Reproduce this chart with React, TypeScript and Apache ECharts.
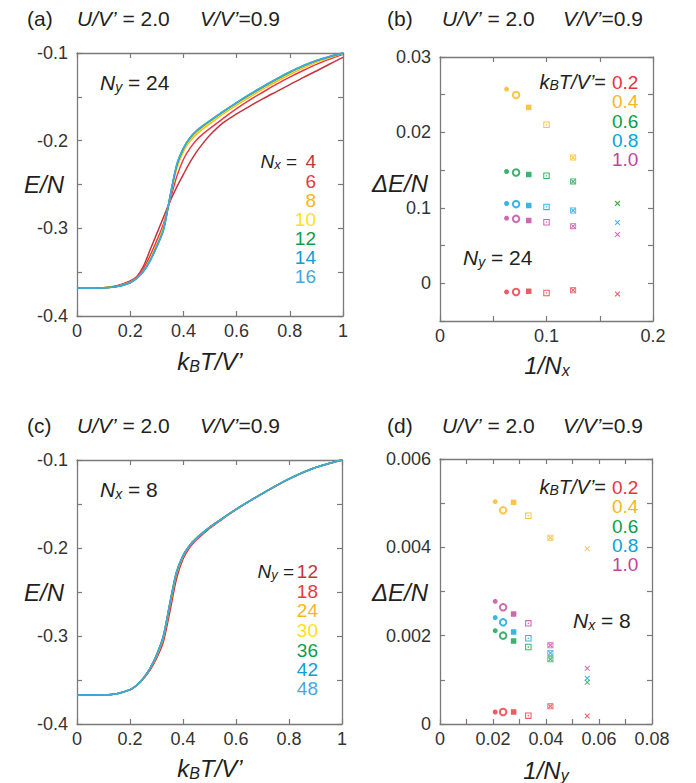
import React, { useEffect, useRef } from "react";
import * as echarts from "echarts";

// ---------- DATA ----------
// temperature grid (kB T / V')
const TEMPS = [0, 0.05, 0.1, 0.15, 0.2, 0.225, 0.25, 0.275, 0.3, 0.325, 0.35, 0.375, 0.4, 0.425, 0.45, 0.475, 0.5, 0.55, 0.6, 0.65, 0.7, 0.75, 0.8, 0.85, 0.9, 0.95, 1.0];

// panel (a): Ny = 24, various Nx
const NX_LIST = [4, 6, 8, 10, 12, 14, 16];
const EA_NX4 = [-0.368, -0.368, -0.3678, -0.3655, -0.360, -0.355, -0.343, -0.3245, -0.306, -0.2875, -0.269, -0.253, -0.2385, -0.2245, -0.2125, -0.2025, -0.1935, -0.1795, -0.1695, -0.1605, -0.152, -0.144, -0.136, -0.128, -0.1205, -0.1125, -0.105];
const EA_NX6 = [-0.368, -0.368, -0.3678, -0.366, -0.361, -0.356, -0.346, -0.331, -0.314, -0.295, -0.268, -0.241, -0.2215, -0.2085, -0.199, -0.192, -0.186, -0.1745, -0.1635, -0.1535, -0.1445, -0.1355, -0.1275, -0.120, -0.113, -0.107, -0.1015];
const EA_NX8 = [-0.368, -0.368, -0.3678, -0.3662, -0.3615, -0.3565, -0.3482, -0.335, -0.318, -0.2985, -0.265, -0.232, -0.2125, -0.2005, -0.1925, -0.186, -0.1805, -0.1695, -0.1595, -0.150, -0.141, -0.1325, -0.1245, -0.1172, -0.1107, -0.1055, -0.1007];
const EA_NX10 = [-0.368, -0.368, -0.3678, -0.3663, -0.3618, -0.3568, -0.3486, -0.336, -0.3195, -0.3005, -0.2645, -0.230, -0.2105, -0.1985, -0.1905, -0.1845, -0.179, -0.168, -0.158, -0.1485, -0.1395, -0.131, -0.123, -0.116, -0.1097, -0.1048, -0.1003];
const EA_NX12 = [-0.368, -0.368, -0.3678, -0.3664, -0.362, -0.357, -0.3488, -0.3365, -0.3205, -0.3015, -0.264, -0.2285, -0.209, -0.197, -0.189, -0.183, -0.1775, -0.167, -0.157, -0.1475, -0.1385, -0.130, -0.122, -0.115, -0.109, -0.1043, -0.100];
const EA_NX14 = [-0.368, -0.368, -0.3678, -0.3665, -0.362, -0.357, -0.349, -0.337, -0.321, -0.302, -0.2635, -0.2275, -0.2085, -0.1965, -0.1885, -0.1825, -0.177, -0.1665, -0.1565, -0.147, -0.138, -0.1295, -0.1215, -0.1145, -0.1085, -0.104, -0.100];
const EA_NX16 = [-0.368, -0.368, -0.3678, -0.3665, -0.362, -0.357, -0.349, -0.337, -0.321, -0.302, -0.263, -0.227, -0.2085, -0.1965, -0.1885, -0.1825, -0.177, -0.1665, -0.1565, -0.147, -0.138, -0.1295, -0.1215, -0.1145, -0.1085, -0.104, -0.100];

// panel (c): Nx = 8, various Ny
const NY_LIST = [12, 18, 24, 30, 36, 42, 48];
const EC_NY12 = [-0.367, -0.367, -0.3668, -0.3655, -0.3612, -0.3565, -0.349, -0.339, -0.3255, -0.3075, -0.273, -0.2355, -0.2125, -0.1995, -0.191, -0.1843, -0.1778, -0.1668, -0.1565, -0.1470, -0.1382, -0.1297, -0.1217, -0.1147, -0.1087, -0.1041, -0.100];
const EC_NY18 = [-0.367, -0.367, -0.3668, -0.3655, -0.3611, -0.3562, -0.3485, -0.338, -0.324, -0.305, -0.269, -0.232, -0.2105, -0.198, -0.190, -0.1835, -0.177, -0.1664, -0.1562, -0.1469, -0.1381, -0.1296, -0.1216, -0.1146, -0.1086, -0.1040, -0.100];
const EC_NY24 = [-0.367, -0.367, -0.3668, -0.3655, -0.361, -0.356, -0.3482, -0.3375, -0.323, -0.303, -0.266, -0.230, -0.2095, -0.1975, -0.1895, -0.183, -0.1767, -0.1662, -0.1561, -0.1468, -0.138, -0.1295, -0.1215, -0.1145, -0.1085, -0.104, -0.100];
const EC_NY30 = [-0.367, -0.367, -0.3668, -0.3655, -0.361, -0.356, -0.348, -0.337, -0.322, -0.3015, -0.2645, -0.2285, -0.209, -0.197, -0.189, -0.1825, -0.1765, -0.166, -0.156, -0.1468, -0.138, -0.1295, -0.1215, -0.1145, -0.1085, -0.104, -0.100];
const EC_NY36 = [-0.367, -0.367, -0.3668, -0.3655, -0.361, -0.356, -0.348, -0.337, -0.3215, -0.301, -0.264, -0.228, -0.2085, -0.197, -0.189, -0.1825, -0.1765, -0.166, -0.156, -0.1468, -0.138, -0.1295, -0.1215, -0.1145, -0.1085, -0.104, -0.100];
const EC_NY42 = [-0.367, -0.367, -0.3668, -0.3655, -0.361, -0.356, -0.348, -0.337, -0.3215, -0.301, -0.2635, -0.2277, -0.2085, -0.197, -0.189, -0.1825, -0.1765, -0.166, -0.156, -0.1468, -0.138, -0.1295, -0.1215, -0.1145, -0.1085, -0.104, -0.100];
const EC_NY48 = [-0.367, -0.367, -0.3668, -0.3655, -0.361, -0.356, -0.348, -0.337, -0.3215, -0.301, -0.263, -0.2275, -0.2085, -0.197, -0.189, -0.1825, -0.1765, -0.166, -0.156, -0.1468, -0.138, -0.1295, -0.1215, -0.1145, -0.1085, -0.104, -0.100];

// panel (b): Ny = 24, dE/N vs 1/Nx
const B_NX = [16, 14, 12, 10, 8, 6];
const T_LABELS = ["0.2", "0.4", "0.6", "0.8", "1.0"];
const DB_T02 = [-0.00115, -0.00115, -0.00106, -0.00128, -0.00093, -0.00142];
const DB_T04 = [0.02575, 0.02496, 0.02332, 0.02102, 0.01668, 0.01062];
const DB_T06 = [0.01482, 0.01469, 0.01442, 0.01425, 0.0135, 0.01058];
const DB_T08 = [0.01058, 0.01049, 0.01031, 0.01013, 0.00965, 0.00805];
const DB_T10 = [0.00863, 0.00854, 0.00832, 0.0081, 0.00757, 0.00646];

// panel (d): Nx = 8, dE/N vs 1/Ny
const D_NY = [48, 42, 36, 30, 24, 18];
const DD_T02 = [0.000272, 0.000272, 0.000272, 0.000189, 0.0004, 0.000181];
const DD_T04 = [0.005034, 0.004838, 0.005019, 0.004717, 0.004219, 0.00397];
const DD_T06 = [0.002113, 0.002, 0.001879, 0.001743, 0.001464, 0.000943];
const DD_T08 = [0.002408, 0.002302, 0.002083, 0.00194, 0.001608, 0.001034];
const DD_T10 = [0.002777, 0.002642, 0.00249, 0.002279, 0.001781, 0.00126];

// tick labels
const AC_Y_LABELS: Record<number, string> = { [-10]: "-0.1", [-20]: "-0.2", [-30]: "-0.3", [-40]: "-0.4" };
const AC_X_LABELS: Record<number, string> = { 0: "0", 2: "0.2", 4: "0.4", 6: "0.6", 8: "0.8", 10: "1" };
const B_X_LABELS: Record<number, string> = { 0: "0", 10: "0.1", 20: "0.2" };
const B_Y_LABELS: Record<number, string> = { 0: "0", 10: "0.1", 20: "0.02", 30: "0.03" };
const D_X_LABELS: Record<number, string> = { 0: "0", 2: "0.02", 4: "0.04", 6: "0.06", 8: "0.08" };
const D_Y_LABELS: Record<number, string> = { 0: "0", 2: "0.002", 4: "0.004", 6: "0.006" };

// ---------- STYLE ----------
const FONT = '"Liberation Sans", Arial, Helvetica, sans-serif';
const CURVE_COLORS = ["#c6343b", "#e63b45", "#f8b523", "#ffe01b", "#0d9e4b", "#0aa0dc", "#48a7db"];
const T_COLORS = ["#e8323c", "#f8b520", "#0c9f4a", "#0ca0de", "#c1449b"];
const AXIS_COLOR = "#7a7a7a";
const TEXT = "#231f20";

const SQ_DOT = "path://M0,0L10,0L10,10L0,10Z M1.6,1.6L1.6,8.4L8.4,8.4L8.4,1.6Z M4,4L6,4L6,6L4,6Z";
const BOX_X = "path://M0,0L10,0L10,10L0,10Z M1.4,1.4L1.4,8.6L8.6,8.6L8.6,1.4Z M1.4,2.6L2.6,1.4L5,3.8L7.4,1.4L8.6,2.6L6.2,5L8.6,7.4L7.4,8.6L5,6.2L2.6,8.6L1.4,7.4L3.8,5Z";
const CROSS = "path://M0,1.3L1.3,0L5,3.7L8.7,0L10,1.3L6.3,5L10,8.7L8.7,10L5,6.3L1.3,10L0,8.7L3.7,5Z";
const SYMBOLS = ["circle", "emptyCircle", "rect", SQ_DOT, BOX_X, CROSS];
const SYM_SIZES = [5, 6.5, 5.5, 6.5, 6, 5.5];

function axisPair(grid: number, min: number, max: number, interval: number, fmt: (v: number) => string, isX: boolean) {
  const common = {
    type: "value",
    gridIndex: grid,
    min,
    max,
    interval,
    axisLine: { show: true, onZero: false, lineStyle: { color: AXIS_COLOR, width: 1.3 } },
    axisTick: { show: true, inside: true, length: 5, lineStyle: { color: AXIS_COLOR, width: 1.2 } },
    splitLine: { show: false },
  };
  const main = {
    ...common,
    position: isX ? "bottom" : "left",
    axisLabel: {
      show: true,
      formatter: fmt,
      color: "#333",
      fontSize: 18,
      fontFamily: FONT,
      margin: isX ? 6 : 9,
      showMinLabel: true,
      showMaxLabel: true,
    },
  };
  const mirror = { ...common, position: isX ? "top" : "right", axisLabel: { show: false } };
  return [main, mirror];
}

function rich(size: number, lh: number) {
  const sub = Math.round(size * 0.68);
  return {
    i: { fontStyle: "italic", fontSize: size, fontFamily: FONT, lineHeight: lh },
    n: { fontSize: size, fontFamily: FONT, lineHeight: lh },
    s: { fontStyle: "italic", fontSize: sub, fontFamily: FONT, lineHeight: sub, verticalAlign: "bottom" },
  };
}

function txt(x: number, y: number, text: string, size: number, align = "left", fill = TEXT, lh = size + 2) {
  return {
    type: "text",
    x,
    y,
    silent: true,
    style: {
      text,
      x: 0,
      y: 0,
      fontSize: size,
      fontFamily: FONT,
      lineHeight: lh,
      fill,
      align,
      verticalAlign: "middle",
      rich: rich(size, lh),
    },
  };
}

export default function App() {
  const ref = useRef<HTMLDivElement>(null);
  useEffect(() => {
    document.body.style.margin = "0";
    if (!ref.current) return;
    const chart = echarts.init(ref.current, null, { renderer: "svg" });

    const acY = (v: number) => AC_Y_LABELS[Math.round(v * 100)] ?? "";
    const acX = (v: number) => AC_X_LABELS[Math.round(v * 10)] ?? "";
    const bX = (v: number) => B_X_LABELS[Math.round(v * 100)] ?? "";
    const bY = (v: number) => B_Y_LABELS[Math.round(v * 1000)] ?? "";
    const dX = (v: number) => D_X_LABELS[Math.round(v * 100)] ?? "";
    const dY = (v: number) => D_Y_LABELS[Math.round(v * 1000)] ?? "";

    const xAxis = [
      ...axisPair(0, 0, 1, 0.2, acX, true),
      ...axisPair(1, 0, 0.2, 0.05, bX, true),
      ...axisPair(2, 0, 1, 0.2, acX, true),
      ...axisPair(3, 0, 0.08, 0.01, dX, true),
    ];
    const yAxis = [
      ...axisPair(0, -0.4, -0.1, 0.05, acY, false),
      ...axisPair(1, -0.005, 0.03, 0.005, bY, false),
      ...axisPair(2, -0.4, -0.1, 0.05, acY, false),
      ...axisPair(3, 0, 0.006, 0.001, dY, false),
    ];

    const series: any[] = [];
    const aCurves = [EA_NX4, EA_NX6, EA_NX8, EA_NX10, EA_NX12, EA_NX14, EA_NX16];
    aCurves.forEach((vals, k) => {
      series.push({
        type: "line",
        name: "Nx=" + NX_LIST[k],
        xAxisIndex: 0,
        yAxisIndex: 0,
        data: TEMPS.map((t, i) => [t, vals[i]]),
        showSymbol: false,
        smooth: 0.3,
        lineStyle: { color: CURVE_COLORS[k], width: 1.5 },
        itemStyle: { color: CURVE_COLORS[k] },
      });
    });
    const cCurves = [EC_NY12, EC_NY18, EC_NY24, EC_NY30, EC_NY36, EC_NY42, EC_NY48];
    cCurves.forEach((vals, k) => {
      series.push({
        type: "line",
        name: "Ny=" + NY_LIST[k],
        xAxisIndex: 4,
        yAxisIndex: 4,
        data: TEMPS.map((t, i) => [t, vals[i]]),
        showSymbol: false,
        smooth: 0.3,
        lineStyle: { color: CURVE_COLORS[k], width: 1.5 },
        itemStyle: { color: CURVE_COLORS[k] },
      });
    });

    const scatter = (axis: number, ns: number[], sets: number[][]) => {
      sets.forEach((vals, k) => {
        series.push({
          type: "scatter",
          name: "T=" + T_LABELS[k],
          xAxisIndex: axis,
          yAxisIndex: axis,
          data: ns.map((n, i) => ({
            value: [1 / n, vals[i]],
            symbol: SYMBOLS[i],
            symbolSize: SYM_SIZES[i],
            itemStyle: i === 1 ? { color: T_COLORS[k], borderColor: T_COLORS[k], borderWidth: 1.3 } : { color: T_COLORS[k], borderWidth: 0 },
          })),
          itemStyle: { color: T_COLORS[k] },
        });
      });
    };
    scatter(2, B_NX, [DB_T02, DB_T04, DB_T06, DB_T08, DB_T10]);
    scatter(6, D_NY, [DD_T02, DD_T04, DD_T06, DD_T08, DD_T10]);

    const graphics: any[] = [];
    // titles
    const titleY = [18, 425];
    const tags = [["(a)", "(b)"], ["(c)", "(d)"]];
    titleY.forEach((ty, r) => {
      graphics.push(txt(27, ty, "{n|" + tags[r][0] + "}", 21));
      graphics.push(txt(77, ty, "{i|U/V’}{n| = 2.0}", 21));
      graphics.push(txt(200, ty, "{i|V/V’}{n|=0.9}", 21));
      graphics.push(txt(387, ty, "{n|" + tags[r][1] + "}", 21));
      graphics.push(txt(442, ty, "{i|U/V’}{n| = 2.0}", 21));
      graphics.push(txt(563, ty, "{i|V/V’}{n|=0.9}", 21));
    });
    // axis names
    graphics.push(txt(64, 184, "{i|E/N}", 24, "right"));
    graphics.push(txt(64, 592, "{i|E/N}", 24, "right"));
    graphics.push(txt(428, 183, "{i|ΔE/N}", 24, "right"));
    graphics.push(txt(428, 592, "{i|ΔE/N}", 24, "right"));
    graphics.push(txt(210, 361, "{i|k}{s|B}{i|T/V’}", 24, "center"));
    graphics.push(txt(210, 768, "{i|k}{s|B}{i|T/V’}", 24, "center"));
    graphics.push(txt(547, 365, "{i|1/N}{s|x}", 24, "center"));
    graphics.push(txt(546, 770, "{i|1/N}{s|y}", 24, "center"));
    // inside labels
    graphics.push(txt(100, 82, "{i|N}{s|y}{n| = 24}", 21));
    graphics.push(txt(100, 489, "{i|N}{s|x}{n| = 8}", 21));
    graphics.push(txt(463, 257, "{i|N}{s|y}{n| = 24}", 21));
    graphics.push(txt(573, 620, "{i|N}{s|x}{n| = 8}", 21));
    // legend (a)
    const aRows = [161.7, 181, 200, 219.2, 238.4, 257.6, 276.8];
    graphics.push(txt(297, aRows[0], "{i|N}{s|x}{n| =}", 19, "right", TEXT, 18));
    NX_LIST.forEach((n, k) => graphics.push(txt(316, aRows[k], String(n), 19, "right", CURVE_COLORS[k], 18)));
    // legend (c)
    const cRows = [571.7, 591.7, 610.7, 630, 650, 669, 688.3];
    graphics.push(txt(294, cRows[0], "{i|N}{s|y}{n| =}", 19, "right", TEXT, 18));
    NY_LIST.forEach((n, k) => graphics.push(txt(318, cRows[k], String(n), 19, "right", CURVE_COLORS[k], 18)));
    // legends (b), (d)
    const bRows = [82, 101.5, 121, 140.3, 159.5];
    const dRows = [487, 506.5, 526, 545.3, 564.5];
    graphics.push(txt(606, bRows[0], "{i|k}{s|B}{i|T/V’}{n|=}", 20, "right", TEXT, 19));
    graphics.push(txt(606, dRows[0], "{i|k}{s|B}{i|T/V’}{n|=}", 20, "right", TEXT, 19));
    T_LABELS.forEach((t, k) => {
      graphics.push(txt(612, bRows[k], t, 19, "left", T_COLORS[k], 17));
      graphics.push(txt(612, dRows[k], t, 19, "left", T_COLORS[k], 17));
    });

    chart.setOption({
      animation: false,
      backgroundColor: "#ffffff",
      grid: [
        { left: 77, top: 53, width: 266, height: 263 },
        { left: 440, top: 57, width: 213, height: 264 },
        { left: 77, top: 460, width: 265, height: 264 },
        { left: 440, top: 459, width: 212, height: 265 },
      ],
      xAxis,
      yAxis,
      series,
      graphic: graphics,
    });
    return () => chart.dispose();
  }, []);
  return <div ref={ref} style={{ width: 696, height: 783 }} />;
}
